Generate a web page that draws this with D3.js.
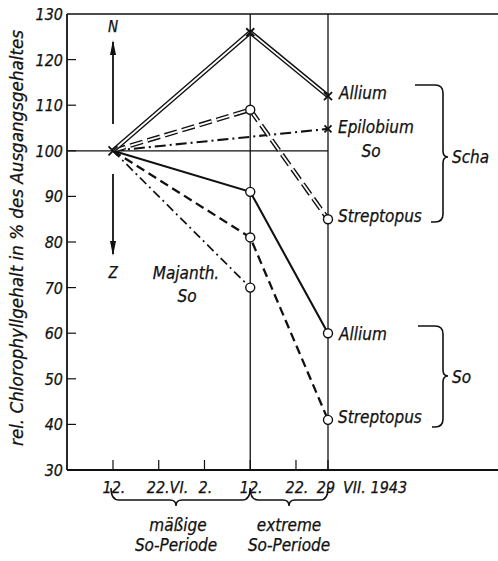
<!DOCTYPE html>
<meta charset="utf-8">
<style>
body { margin: 0; background: #fff; }
svg text {
  font-family: "DejaVu Sans Condensed", "Liberation Sans Narrow", sans-serif;
  font-style: italic;
  fill: #111;
  stroke: #111;
  stroke-width: 0.25px;
}
.lab { font-size: 17px; }
.tick { font-size: 16px; }
</style>
<svg width="498" height="561"></svg>
<script src="https://d3js.org/d3.v7.min.js"></script>
<script>

var dates = ["1943-06-12", "1943-07-12", "1943-07-29"].map(d3.timeParse("%Y-%m-%d"));
var tickDates = ["1943-06-12", "1943-06-22", "1943-07-02", "1943-07-12", "1943-07-22", "1943-07-29"].map(d3.timeParse("%Y-%m-%d"));
var tickLabels = ["12.", "22.VI.", "2.", "12.", "22.", "29"];
var yTicks = [30, 40, 50, 60, 70, 80, 90, 100, 110, 120, 130];

// series: values at 12.VI, 12.VII, 29.VII (null = no point)
var alliumScha = [100, 126, 112];
var streptopusScha = [100, 109, 85];
var epilobiumSo = [100, null, 104.8];
var alliumSo = [100, 91, 60];
var streptopusSo = [100, 81, 41];
var majanthSo = [100, 70, null];

var svg = d3.select("svg");
var black = "#111";

var x = d3.scaleTime().domain([dates[0], dates[2]]).range([113, 328]);
var y = d3.scaleLinear().domain([30, 130]).range([470, 14]);
var x0 = 67, x1 = 498;

// frame
svg.append("line").attr("x1", x0).attr("x2", x1).attr("y1", y(130)).attr("y2", y(130))
  .attr("stroke", black).attr("stroke-width", 1.6);
svg.append("line").attr("x1", x0).attr("x2", x1).attr("y1", y(30)).attr("y2", y(30))
  .attr("stroke", black).attr("stroke-width", 1.8);
svg.append("line").attr("x1", x0).attr("x2", x0).attr("y1", y(130)).attr("y2", y(30))
  .attr("stroke", black).attr("stroke-width", 1.8);
svg.append("line").attr("x1", x0).attr("x2", x(dates[2])).attr("y1", y(100)).attr("y2", y(100))
  .attr("stroke", black).attr("stroke-width", 1.3);
[dates[1], dates[2]].forEach(function(d) {
  svg.append("line").attr("x1", x(d)).attr("x2", x(d)).attr("y1", y(130)).attr("y2", y(30))
    .attr("stroke", black).attr("stroke-width", 1.3);
});

// y ticks
yTicks.forEach(function(v) {
  if (v > 30 && v < 130) {
    svg.append("line").attr("x1", x0).attr("x2", x0 + 9).attr("y1", y(v)).attr("y2", y(v))
      .attr("stroke", black).attr("stroke-width", 1.2);
  }
  svg.append("text").attr("class", "tick").attr("x", x0 - 4).attr("y", y(v) + 6)
    .attr("text-anchor", "end").text(v);
});

// x ticks
tickDates.forEach(function(d, i) {
  svg.append("line").attr("x1", x(d)).attr("x2", x(d)).attr("y1", y(30)).attr("y2", y(30) - 10)
    .attr("stroke", black).attr("stroke-width", 1.2);
  var t = svg.append("text").attr("class", "tick").attr("y", 493).text(tickLabels[i]);
  if (i === 1) t.attr("x", x(d) - 12);
  else if (i === 5) t.attr("x", x(d) - 2).attr("text-anchor", "middle");
  else t.attr("x", x(d) + 1).attr("text-anchor", "middle");
});
svg.append("text").attr("class", "tick").attr("x", x(dates[2]) + 15).attr("y", 493)
  .text("VII. 1943");

// y label
svg.append("text").attr("transform", "translate(23,238) rotate(-90)")
  .attr("text-anchor", "middle").style("font-size", "17px")
  .attr("textLength", 416).attr("lengthAdjust", "spacingAndGlyphs")
  .text("rel. Chlorophyllgehalt in % des Ausgangsgehaltes");

var line = d3.line().defined(function(d) { return d.v != null; })
  .x(function(d) { return x(d.d); }).y(function(d) { return y(d.v); });
function pts(vals) {
  return vals.map(function(v, i) { return { d: dates[i], v: v }; }).filter(function(p) { return p.v != null; });
}

function draw(vals, w, dash, dbl) {
  var p = line(pts(vals));
  svg.append("path").attr("d", p).attr("fill", "none").attr("stroke", black)
    .attr("stroke-width", dbl ? 4.6 : w).attr("stroke-dasharray", dash);
  if (dbl) {
    svg.append("path").attr("d", p).attr("fill", "none").attr("stroke", "#fff")
      .attr("stroke-width", 1.8).attr("stroke-dasharray", dash);
  }
}

draw(majanthSo, 1.7, "9,4,2,4", false);
draw(streptopusSo, 2.3, "9,5", false);
draw(alliumSo, 2.1, null, false);
draw(epilobiumSo, 2.1, "11,4,2,4", false);
draw(streptopusScha, 0, "13,5", true);
draw(alliumScha, 0, null, true);

function circles(vals) {
  pts(vals).slice(1).forEach(function(p) {
    svg.append("circle").attr("cx", x(p.d)).attr("cy", y(p.v)).attr("r", 4.5)
      .attr("fill", "#fff").attr("stroke", black).attr("stroke-width", 1.4);
  });
}
function cross(d, v, s) {
  var cx = x(d), cy = y(v);
  svg.append("path").attr("d", "M" + (cx - s) + "," + (cy - s) + "L" + (cx + s) + "," + (cy + s) +
    "M" + (cx - s) + "," + (cy + s) + "L" + (cx + s) + "," + (cy - s))
    .attr("stroke", black).attr("stroke-width", 1.8);
}
circles(streptopusScha);
circles(alliumSo);
circles(streptopusSo);
circles(majanthSo);
cross(dates[0], 100, 4.5);
cross(dates[1], alliumScha[1], 4);
cross(dates[2], alliumScha[2], 4);
cross(dates[2], epilobiumSo[2], 3.5);

// N / Z arrows
function arrow(xa, ya, yb) {
  svg.append("line").attr("x1", xa).attr("x2", xa).attr("y1", ya).attr("y2", yb)
    .attr("stroke", black).attr("stroke-width", 1.8);
  var dir = yb < ya ? -1 : 1;
  svg.append("path").attr("d", "M" + xa + "," + (yb + dir * 2) + "L" + (xa - 3) + "," + (yb - dir * 13) +
    "L" + (xa + 3) + "," + (yb - dir * 13) + "Z").attr("fill", black);
}
arrow(x(dates[0]), 124, 42);
arrow(x(dates[0]), 174, 254);
svg.append("text").attr("class", "lab").attr("x", x(dates[0])).attr("y", 32)
  .attr("text-anchor", "middle").style("font-size", "15px").text("N");
svg.append("text").attr("class", "lab").attr("x", x(dates[0])).attr("y", 278)
  .attr("text-anchor", "middle").style("font-size", "15px").text("Z");

// series labels
var lx = x(dates[2]) + 11;
function lab(t, xx, yy, anchor) {
  svg.append("text").attr("class", "lab").attr("x", xx).attr("y", yy)
    .attr("text-anchor", anchor || "start").text(t);
}
lab("Allium", lx, 99);
lab("Epilobium", lx - 1, 133);
lab("So", 371, 157, "middle");
lab("Streptopus", lx - 1, 222);
lab("Allium", lx, 340);
lab("Streptopus", lx - 1, 423);
lab("Majanth.", 186, 279, "middle");
lab("So", 187, 302, "middle");
lab("Scha", 452, 163);
lab("So", 452, 383);

// right braces
function vbrace(xv, top, tip, bot, topL, botL) {
  var d = "M" + topL + "," + top + "L" + (xv - 8) + "," + top +
    "Q" + xv + "," + top + " " + xv + "," + (top + 8) +
    "L" + xv + "," + (tip - 6) +
    "Q" + xv + "," + tip + " " + (xv + 5) + "," + tip +
    "Q" + xv + "," + tip + " " + xv + "," + (tip + 6) +
    "L" + xv + "," + (bot - 8) +
    "Q" + xv + "," + bot + " " + (xv - 8) + "," + bot + "L" + botL + "," + bot;
  svg.append("path").attr("d", d).attr("fill", "none").attr("stroke", black).attr("stroke-width", 1.6);
}
vbrace(443, 85, 157, 222, 415, 431);
vbrace(443, 326, 376, 427, 418, 432);

// bottom braces
function hbrace(xa, xb, tipX) {
  var yb = 500, ya = 488;
  var d = "M" + xa + "," + ya + "Q" + xa + "," + yb + " " + (xa + 8) + "," + yb +
    "L" + (tipX - 6) + "," + yb + "Q" + tipX + "," + yb + " " + tipX + "," + (yb + 6) +
    "Q" + tipX + "," + yb + " " + (tipX + 6) + "," + yb +
    "L" + (xb - 8) + "," + yb + "Q" + xb + "," + yb + " " + xb + "," + ya;
  svg.append("path").attr("d", d).attr("fill", "none").attr("stroke", black).attr("stroke-width", 1.5);
}
hbrace(x(dates[0]) - 2, x(dates[1]), 176);
hbrace(x(dates[1]), x(dates[2]), 289);
lab("mäßige", 178, 531, "middle");
lab("So-Periode", 176, 551, "middle");
lab("extreme", 289, 531, "middle");
lab("So-Periode", 289, 551, "middle");

</script>
